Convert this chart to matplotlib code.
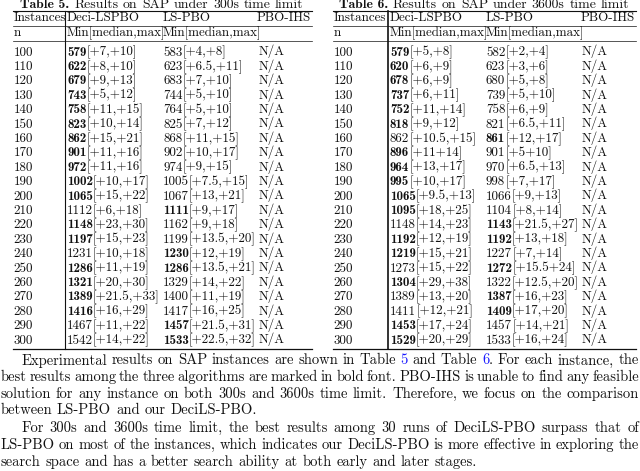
import matplotlib.pyplot as plt

instances = [100, 110, 120, 130, 140, 150, 160, 170, 180, 190, 200,
             210, 220, 230, 240, 250, 260, 270, 280, 290, 300]

# Table 5 (300s)
t5_deci_min = [579, 622, 679, 743, 758, 823, 862, 901, 972, 1002, 1065,
               1112, 1148, 1197, 1231, 1286, 1321, 1389, 1416, 1467, 1542]
t5_deci_rng = ["+7,+10", "+8,+10", "+9,+13", "+5,+12", "+11,+15", "+10,+14",
               "+15,+21", "+11,+16", "+11,+16", "+10,+17", "+15,+22", "+6,+18",
               "+23,+30", "+15,+23", "+10,+18", "+11,+19", "+20,+30", "+21.5,+33",
               "+16,+29", "+11,+22", "+14,+22"]
t5_ls_min = [583, 623, 683, 744, 764, 825, 868, 902, 974, 1005, 1067,
             1111, 1162, 1199, 1230, 1286, 1329, 1400, 1417, 1457, 1533]
t5_ls_rng = ["+4,+8", "+6.5,+11", "+7,+10", "+5,+10", "+5,+10", "+7,+12",
             "+11,+15", "+10,+17", "+9,+15", "+7.5,+15", "+13,+21", "+9,+17",
             "+9,+18", "+13.5,+20", "+12,+19", "+13.5,+21", "+14,+22", "+11,+19",
             "+16,+25", "+21.5,+31", "+22.5,+32"]

# Table 6 (3600s)
t6_deci_min = [579, 620, 678, 737, 752, 818, 862, 896, 964, 995, 1065,
               1095, 1148, 1192, 1219, 1273, 1304, 1389, 1411, 1453, 1529]
t6_deci_rng = ["+5,+8", "+6,+9", "+6,+9", "+6,+11", "+11,+14", "+9,+12",
               "+10.5,+15", "+11+14", "+13,+17", "+10,+17", "+9.5,+13", "+18,+25",
               "+14,+23", "+12,+19", "+15,+21", "+15,+22", "+29,+38", "+13,+20",
               "+12,+21", "+17,+24", "+20,+29"]
t6_ls_min = [582, 623, 680, 739, 758, 821, 861, 901, 970, 998, 1066,
             1104, 1143, 1192, 1227, 1272, 1322, 1387, 1409, 1457, 1533]
t6_ls_rng = ["+2,+4", "+3,+6", "+5,+8", "+5,+10", "+6,+9", "+6.5,+11",
             "+12,+17", "+5+10", "+6.5,+13", "+7,+17", "+9,+13", "+8,+14",
             "+21.5,+27", "+13,+18", "+7,+14", "+15.5+24", "+12.5,+20", "+16,+23",
             "+17,+20", "+14,+21", "+16,+24"]

# paragraph lines: (words, justified, indent); "|b" marks a blue piece
para_lines = [
    ("Experimental results on SAP instances are shown in Table 5|b and Table 6|b. For each instance, the", True, True),
    ("best results among the three algorithms are marked in bold font. PBO-IHS is unable to find any feasible", True, False),
    ("solution for any instance on both 300s and 3600s time limit. Therefore, we focus on the comparison", True, False),
    ("between LS-PBO and our DeciLS-PBO.", False, False),
    ("For 300s and 3600s time limit, the best results among 30 runs of DeciLS-PBO surpass that of", True, True),
    ("LS-PBO on most of the instances, which indicates our DeciLS-PBO is more effective in exploring the", True, False),
    ("search space and has a better search ability at both early and later stages.", False, False),
]

W, H = 640, 471
fig = plt.figure(figsize=(6.4, 4.71), dpi=100)
ax = fig.add_axes([0, 0, 1, 1])
ax.set_xlim(0, W)
ax.set_ylim(H, 0)
ax.axis("off")
renderer = fig.canvas.get_renderer()

REG = "cmr10"
BLD = "cmb10"
TS = 9.4    # table font size
CS = 9.9    # caption font size
PS = 10.5   # paragraph font size
INK = "#111111"
BLUE = "#1a1aff"


def txt_width(s, family, size):
    t = ax.text(0, 0, s, family=family, fontsize=size)
    w = t.get_window_extent(renderer).width
    t.remove()
    return w


def space(size):
    # TeX interword space, 1/3 em
    return size * 100 / 72 / 3


def put(x, y, s, family=REG, size=TS, color=INK, ha="left"):
    ax.text(x, y, s, family=family, fontsize=size, color=color, ha=ha, va="baseline")


def words_width(words, family, size):
    return sum(txt_width(w, family, size) for w in words) + space(size) * (len(words) - 1)


def put_words(x, y, words, family=REG, size=TS):
    for w in words:
        put(x, y, w, family=family, size=size)
        x += txt_width(w, family, size) + space(size)
    return x


def min_cell(x, y, m, rng, bold):
    fam = BLD if bold else REG
    s = str(m)
    put(x, y, s, family=fam)
    put(x + txt_width(s, fam, TS), y, "[" + rng + "]")


def draw_table(x0, x1, xbar, cx, title_no, title_rest, dmin, drng, lmin, lrng, na_x, bar_lw):
    # caption, word by word
    wb = txt_width(title_no, BLD, CS)
    rest = title_rest.split(" ")
    total = wb + space(CS) + words_width(rest, REG, CS)
    tx = (x0 + x1) / 2 - total / 2
    put(tx, 8.5, title_no, family=BLD, size=CS)
    put_words(tx + wb + space(CS), 8.5, rest, size=CS)

    # rules
    ax.plot([x0, x1], [10.5, 10.5], color=INK, lw=0.8)
    ax.plot([x0, x1], [25.5, 25.5], color=INK, lw=0.5)
    ax.plot([x0, x1], [40.5, 40.5], color=INK, lw=0.5)
    ax.plot([x0, x1], [348.5, 348.5], color=INK, lw=0.9)
    ax.plot([xbar, xbar], [10.5, 348.5], color=INK, lw=bar_lw)

    # header
    put(cx[0], 21, "Instances")
    put(cx[1], 21, "Deci-LSPBO")
    put(cx[2], 21, "LS-PBO")
    put(x1 - 1, 21, "PBO-IHS", ha="right")
    put(cx[0], 36, "n")
    put(cx[1], 36, "Min[median,max]")
    put(cx[2], 36, "Min[median,max]")

    for i, n in enumerate(instances):
        y = 55.5 + 14.4 * i
        best = min(dmin[i], lmin[i])
        put(cx[0], y, str(n))
        min_cell(cx[1], y, dmin[i], drng[i], dmin[i] == best)
        min_cell(cx[2], y, lmin[i], lrng[i], lmin[i] == best)
        put(na_x, y, "N/A")


draw_table(12.5, 311.5, 64.5, [13.5, 67, 163, 259], "Table 5.",
           "Results on SAP under 300s time limit",
           t5_deci_min, t5_deci_rng, t5_ls_min, t5_ls_rng, 259, 0.8)
draw_table(333, 635.5, 387.5, [333.5, 390, 486, 580], "Table 6.",
           "Results on SAP under 3600s time limit",
           t6_deci_min, t6_deci_rng, t6_ls_min, t6_ls_rng, 582, 1.2)

# paragraph text, justified word by word
left, right, indent = 0.5, 639.0, 21
for k, (line, just, ind) in enumerate(para_lines):
    y = 364.5 + 16.6 * k + (1.5 if k >= 4 else 0)
    words = []
    for w in line.split(" "):
        if "|b" in w:
            a, b = w.split("|b")
            pieces = [(a, BLUE), (b, INK)]
        else:
            pieces = [(w, INK)]
        pieces = [(s, c, txt_width(s, REG, PS)) for s, c in pieces if s]
        words.append(pieces)
    word_ws = [sum(p[2] for p in wd) for wd in words]
    x = left + (indent if ind else 0)
    gap = (right - x - sum(word_ws)) / (len(words) - 1) if just else space(PS)
    for wd, ww in zip(words, word_ws):
        px = x
        for s, c, pw in wd:
            put(px, y, s, size=PS, color=c)
            px += pw
        x += ww + gap

fig.savefig("out.png", dpi=100)
